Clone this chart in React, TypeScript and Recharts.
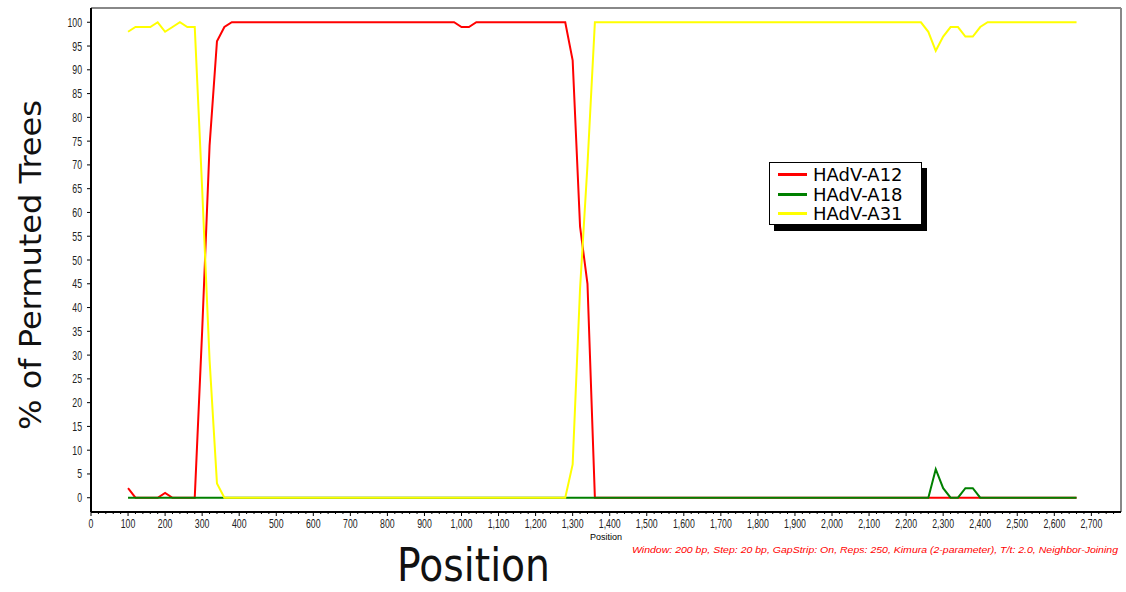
import { LineChart, Line, XAxis, YAxis, Label, ReferenceLine } from 'recharts';

// window midpoints (bp) where any series changes slope
const positions = [
  100, 120, 140, 160, 180, 200, 220, 240, 260, 280, 300, 320, 340, 360, 380,
  980, 1000, 1020, 1040, 1280, 1300, 1320, 1340, 1360,
  2240, 2260, 2280, 2300, 2320, 2340, 2360, 2380, 2400, 2420, 2660,
];

const hadvA12 = [
  2, 0, 0, 0, 0, 1, 0, 0, 0, 0, 35, 74, 96, 99, 100,
  100, 99, 99, 100, 100, 92, 57, 45, 0,
  0, 0, 0, 0, 0, 0, 0, 0, 0, 0, 0,
];

const hadvA18 = [
  0, 0, 0, 0, 0, 0, 0, 0, 0, 0, 0, 0, 0, 0, 0,
  0, 0, 0, 0, 0, 0, 0, 0, 0,
  0, 0, 6, 2, 0, 0, 2, 2, 0, 0, 0,
];

const hadvA31 = [
  98, 99, 99, 99, 100, 98, 99, 100, 99, 99, 65, 29, 3, 0, 0,
  0, 0, 0, 0, 0, 7, 44, 70, 100,
  100, 98, 94, 97, 99, 99, 97, 97, 99, 100, 100,
];

const yTicks = [0, 5, 10, 15, 20, 25, 30, 35, 40, 45, 50, 55, 60, 65, 70, 75, 80, 85, 90, 95, 100];
const xMajorTicks = [
  0, 100, 200, 300, 400, 500, 600, 700, 800, 900, 1000, 1100, 1200, 1300,
  1400, 1500, 1600, 1700, 1800, 1900, 2000, 2100, 2200, 2300, 2400, 2500, 2600, 2700,
];

const series = [
  { key: 'a12', name: 'HAdV-A12', color: '#ff0000' },
  { key: 'a18', name: 'HAdV-A18', color: '#008000' },
  { key: 'a31', name: 'HAdV-A31', color: '#ffff00' },
];

const noteText =
  'Window: 200 bp, Step: 20 bp, GapStrip: On, Reps: 250, Kimura (2-parameter), T/t: 2.0, Neighbor-Joining';

const chartData = positions.map((pos, i) => ({
  pos,
  a12: hadvA12[i],
  a18: hadvA18[i],
  a31: hadvA31[i],
}));

// minor ticks every 20 bp, labels only on the hundreds
const xTicks: number[] = [];
for (let v = 0; v <= 2760; v += 20) xTicks.push(v);

const FONT = "'Liberation Sans', Arial, sans-serif";

const XTick = ({ x, y, payload }: any) => {
  const v = payload.value as number;
  const major = xMajorTicks.includes(v);
  return (
    <g>
      <line x1={x} x2={x} y1={y} y2={y + (major ? 4 : 2)} stroke="#000" strokeWidth={1} />
      {major && (
        <text
          transform={`translate(${x},${y + 15.5}) scale(0.7,1)`}
          textAnchor="middle"
          fontSize={12.5}
          fontFamily={FONT}
          fill="#222"
        >
          {v.toLocaleString('en-US')}
        </text>
      )}
    </g>
  );
};

const YTick = ({ x, y, payload }: any) => (
  <text
    transform={`translate(${x},${y}) scale(0.7,1)`}
    textAnchor="end"
    dy="0.36em"
    fontSize={12.5}
    fontFamily={FONT}
    fill="#222"
  >
    {payload.value}
  </text>
);

const LegendBox = () => (
  <div
    style={{
      position: 'absolute',
      left: 769,
      top: 162,
      border: '1px solid #000',
      background: '#fff',
      boxShadow: '5px 6px 0 #000',
      width: 153,
      height: 63,
      boxSizing: 'border-box',
      paddingTop: 2,
    }}
  >
    {series.map((s) => (
      <div key={s.key} style={{ display: 'flex', alignItems: 'center', height: 19.5 }}>
        <div style={{ width: 29, height: 3, background: s.color, marginLeft: 8, marginRight: 6 }} />
        <span
          style={{
            fontFamily: "'DejaVu Sans', sans-serif",
            fontSize: 18,
            lineHeight: '19px',
            color: '#000',
          }}
        >
          {s.name}
        </span>
      </div>
    ))}
  </div>
);

const BottomTexts = () => (
  <g>
    <text x={606} y={540} textAnchor="middle" fontSize={9} fontFamily={FONT} fill="#000">
      Position
    </text>
    <text
      x={632}
      y={553}
      fontSize={9.5}
      fontStyle="italic"
      fontFamily={FONT}
      fill="#ff0000"
      textLength={486}
      lengthAdjust="spacingAndGlyphs"
    >
      {noteText}
    </text>
    <text
      x={397}
      y={581}
      fontSize={46}
      fontFamily="'DejaVu Sans', sans-serif"
      fill="#111"
      textLength={153}
      lengthAdjust="spacingAndGlyphs"
    >
      Position
    </text>
  </g>
);

const YTitle = () => (
  <text
    transform="translate(41,265) rotate(-90)"
    textAnchor="middle"
    fontSize={31}
    fontFamily="'DejaVu Sans', sans-serif"
    fill="#111"
    textLength={330}
    lengthAdjust="spacingAndGlyphs"
  >
    % of Permuted Trees
  </text>
);

export default function App() {
  return (
    <div style={{ position: 'absolute', left: 0, top: 0, width: 1126, height: 592, background: '#fff' }}>
      <LineChart
        width={1126}
        height={592}
        data={chartData}
        margin={{ top: 8, right: 5, left: 21, bottom: 60 }}
      >
        <XAxis
          dataKey="pos"
          type="number"
          domain={[0, 2780]}
          ticks={xTicks}
          interval={0}
          tick={<XTick />}
          tickLine={false}
          tickSize={0}
          tickMargin={0}
          height={20}
          axisLine={{ stroke: '#000', strokeWidth: 2 }}
          allowDataOverflow
        >
          <Label content={<BottomTexts />} />
        </XAxis>
        <YAxis
          type="number"
          domain={[-3, 103]}
          ticks={yTicks}
          interval={0}
          width={70}
          tick={<YTick />}
          tickSize={4}
          tickMargin={5}
          tickLine={{ stroke: '#000' }}
          axisLine={{ stroke: '#000', strokeWidth: 2 }}
          allowDataOverflow
        >
          <Label content={<YTitle />} />
        </YAxis>
        <ReferenceLine y={103} stroke="#888" strokeWidth={2} />
        <ReferenceLine x={2780} stroke="#888" strokeWidth={2} />
        {series.map((s) => (
          <Line
            key={s.key}
            dataKey={s.key}
            name={s.name}
            type="linear"
            stroke={s.color}
            strokeWidth={2}
            dot={false}
            activeDot={false}
            isAnimationActive={false}
          />
        ))}
      </LineChart>
      <LegendBox />
    </div>
  );
}
